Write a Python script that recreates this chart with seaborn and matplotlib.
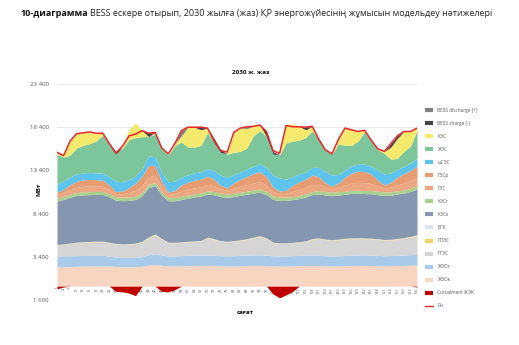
import matplotlib
matplotlib.use("Agg")
import matplotlib.pyplot as plt
import seaborn as sns
from matplotlib.lines import Line2D

sns.set_theme(style="white")
plt.rcParams["font.family"] = ["Open Sans", "DejaVu Sans"]

# hour of the week (every third hour)
hours = [1, 4, 7, 10, 13, 16, 19, 22, 25, 28, 31, 34, 37, 40, 43, 46, 49, 52, 55, 58,
         61, 64, 67, 70, 73, 76, 79, 82, 85, 88, 91, 94, 97, 100, 103, 106, 109, 112,
         115, 118, 121, 124, 127, 130, 133, 136, 139, 142, 145, 148, 151, 154, 157,
         160, 163, 166]

# generation by plant type, MW (stacked bottom to top)
zheo_k = [2250, 2260, 2280, 2300, 2320, 2330, 2340, 2350, 2330, 2280, 2250, 2250, 2260, 2300,
          2450, 2520, 2420, 2350, 2350, 2360, 2370, 2380, 2380, 2400, 2380, 2350, 2340, 2350,
          2370, 2380, 2400, 2400, 2380, 2340, 2320, 2330, 2350, 2370, 2380, 2390, 2380, 2350,
          2330, 2340, 2360, 2380, 2390, 2400, 2390, 2370, 2350, 2360, 2380, 2400, 2420, 2450]
zheo_g = [1250, 1250, 1240, 1240, 1230, 1230, 1230, 1220, 1150, 1080, 1070, 1070, 1080, 1100,
          1200, 1250, 1200, 1150, 1150, 1180, 1200, 1200, 1210, 1220, 1200, 1180, 1170, 1180,
          1200, 1210, 1220, 1230, 1200, 1170, 1160, 1160, 1180, 1200, 1210, 1220, 1200, 1170,
          1160, 1170, 1190, 1210, 1220, 1220, 1210, 1190, 1170, 1180, 1200, 1220, 1230, 1240]
gtes = [1250, 1300, 1380, 1450, 1500, 1520, 1540, 1540, 1500, 1500, 1500, 1520, 1550, 1700,
        1950, 2150, 1800, 1500, 1500, 1500, 1520, 1550, 1600, 1950, 1800, 1650, 1600, 1650,
        1700, 1800, 1950, 2100, 1900, 1500, 1450, 1450, 1450, 1480, 1550, 1800, 1900, 1850,
        1800, 1850, 1900, 1900, 1900, 1850, 1850, 1850, 1800, 1800, 1850, 1900, 2000, 2150]
gpes = [40, 40, 50, 60, 60, 60, 60, 60, 50, 40, 40, 40, 50, 60, 80, 80, 60, 40, 40, 50, 60, 60,
        60, 70, 60, 40, 40, 50, 60, 60, 70, 70, 60, 40, 40, 40, 50, 60, 60, 60, 60, 40, 40, 50,
        60, 60, 60, 60, 60, 40, 40, 50, 60, 60, 70, 80]
bgk = [40, 40, 40, 40, 40, 40, 40, 40, 40, 40, 40, 40, 40, 40, 40, 40, 40, 40, 40, 40, 40, 40,
       40, 40, 40, 40, 40, 40, 40, 40, 40, 40, 40, 40, 40, 40, 40, 40, 40, 40, 40, 40, 40, 40,
       40, 40, 40, 40, 40, 40, 40, 40, 40, 40, 40, 40]
kes_k = [5000, 5150, 5300, 5400, 5420, 5420, 5410, 5400, 5250, 5000, 5000, 5000, 5050, 5300,
         5700, 5600, 5000, 4800, 4800, 4900, 5000, 5100, 5150, 5000, 5100, 5100, 5100, 5100,
         5150, 5150, 5100, 5050, 5000, 4950, 4900, 4900, 4950, 5000, 5100, 5100, 5100, 5100,
         5100, 5100, 5100, 5150, 5150, 5150, 5150, 5100, 5100, 5100, 5150, 5150, 5200, 5300]
kes_g = [350, 350, 350, 350, 350, 350, 350, 350, 380, 400, 400, 400, 380, 350, 350, 350, 380,
         400, 400, 380, 350, 350, 350, 350, 380, 400, 400, 380, 350, 350, 350, 350, 380, 400,
         400, 380, 350, 350, 350, 350, 380, 400, 400, 380, 350, 350, 350, 350, 380, 400, 400,
         380, 350, 350, 350, 350]
ges = [400, 450, 550, 600, 650, 650, 650, 600, 500, 350, 400, 550, 700, 800, 900, 850, 600, 350,
       450, 600, 700, 700, 700, 750, 650, 500, 400, 600, 700, 750, 800, 850, 750, 500, 400, 450,
       600, 700, 750, 800, 700, 500, 400, 500, 700, 850, 900, 900, 800, 600, 450, 550, 700, 800,
       900, 950]
ges_r = [300, 350, 550, 700, 750, 750, 700, 700, 500, 250, 300, 550, 800, 1100, 1300, 1150, 600,
         250, 350, 700, 800, 900, 900, 950, 750, 400, 300, 600, 800, 950, 1100, 1150, 950, 500,
         300, 350, 700, 900, 950, 1100, 900, 500, 300, 500, 900, 1150, 1300, 1300, 1100, 700,
         350, 550, 900, 1100, 1200, 1350]
shges = [900, 1000, 900, 850, 800, 800, 800, 800, 950, 1200, 1100, 900, 850, 850, 1100, 1000,
         1000, 1200, 1100, 900, 850, 850, 850, 900, 1000, 1200, 1200, 950, 850, 850, 850, 900,
         1100, 1400, 1500, 1300, 1000, 900, 850, 900, 1100, 1300, 1300, 1000, 850, 850, 850,
         850, 900, 1100, 1300, 1100, 900, 850, 850, 900]
zhes = [3500, 2740, 2550, 3010, 3180, 3350, 3680, 4440, 3740, 3140, 3880, 4660, 4430, 3700,
        2250, 2630, 2800, 3100, 4100, 4080, 3210, 2970, 3060, 4180, 3240, 2620, 2690, 2590,
        2380, 2460, 3530, 3870, 3540, 2440, 2670, 4180, 4120, 3900, 3960, 4240, 3240, 2530,
        2410, 3560, 2850, 2360, 2640, 3780, 2920, 2390, 2380, 1580, 1270, 1730, 1950, 3210]
kes_sun = [200, 150, 1600, 1650, 1450, 1350, 900, 200, 100, 0, 100, 1200, 1700, 700, 0, 200,
           100, 0, 200, 700, 2300, 2300, 1800, 500, 0, 0, 0, 2300, 2700, 2250, 1100, 650, 0, 0,
           0, 2100, 2000, 1600, 900, 500, 0, 0, 0, 500, 2000, 1800, 1100, 150, 100, 100, 200,
           1400, 2300, 2300, 1700, 300]
bess_charge = [0, 0, 0, 0, 0, 0, 0, 0, 0, 300, 0, 0, 0, 0, 400, 0, 0, 0, 0, 0, 0, 0, 300, 0,
               500, 300, 0, 0, 0, 0, 0, 0, 600, 300, 0, 0, 0, 0, 300, 0, 0, 0, 0, 0, 0, 0, 0, 0,
               0, 0, 0, 400, 300, 0, 0, 0]
bess_discharge = [0, 0, 0, 0, 0, 0, 0, 0, 0, 0, 0, 0, 0, 0, 0, 0, 0, 0, 0, 600, 0, 0, 0, 0, 0,
                  0, 0, 0, 0, 200, 0, 0, 0, 0, 0, 0, 0, 0, 0, 0, 0, 0, 0, 0, 0, 0, 0, 0, 0, 0,
                  0, 0, 0, 0, 0, 0]
curtailment = [-300, -100, 0, 0, 0, 0, 0, 0, 0, -600, -650, -800, -1100, 0, 0, 0, -600, -650,
               -400, 0, 0, 0, 0, 0, 0, 0, 0, 0, 0, 0, 0, 0, 0, -900, -1350, -1000, -600, 0, 0,
               0, 0, 0, 0, 0, 0, 0, 0, 0, 0, 0, 0, 0, 0, 0, 0, -100]
demand = [15500, 15100, 16800, 17650, 17750, 17850, 17700, 17700, 16500, 15400, 16200, 17400,
          17600, 18000, 17700, 17800, 16000, 15300, 16500, 18000, 18400, 18400, 18400, 18300,
          16800, 15700, 15500, 17800, 18300, 18450, 18500, 18650, 17900, 15700, 15350, 18600,
          18450, 18450, 18400, 18500, 17000, 15800, 15300, 17000, 18300, 18100, 17900, 18050,
          16900, 15900, 15600, 16500, 17400, 17900, 17900, 18300]

y_ticks = [-1600, 3400, 8400, 13400, 18400, 23400]
y_tick_labels = ["1 600", "3 400", "8 400", "13 400", "18 400", "23 400"]

stack_series = [zheo_k, zheo_g, gtes, gpes, bgk, kes_k, kes_g, ges, ges_r, shges, zhes,
                kes_sun, bess_charge, bess_discharge]
stack_names = ["ЖЭОк", "ЖЭОг", "ГТЭС", "ГПЭС", "БГК", "КЭСк", "КЭСг", "ГЭС", "ГЭСр", "шГЭС",
               "ЖЭС", "КЭС", "BESS charge (-)", "BESS discharge (+)"]
stack_colors = ["#F7D5C1", "#A8CBEB", "#D5D5D5", "#F2D36A", "#DCE6F2", "#8597B0", "#A9D18E",
                "#EBA682", "#E89C72", "#5DC4EE", "#7DC59B", "#F6EA6E", "#454545", "#808080"]
curt_color = "#C00000"
line_color = "#E8262A"
grey_text = "#595959"

fig = plt.figure(figsize=(5.19, 3.45), dpi=100)
ax = fig.add_axes([57 / 519, 1 - 300 / 345, 360 / 519, 216 / 345])

ax.stackplot(hours, *stack_series, colors=stack_colors, linewidth=0.0, zorder=2)
ax.fill_between(hours, curtailment, 0, color=curt_color, linewidth=0, zorder=4)
sns.lineplot(x=hours, y=demand, ax=ax, color=line_color, linewidth=1.1, zorder=5)

ax.set_xlim(hours[0], hours[-1])
ax.set_ylim(y_ticks[0], y_ticks[-1])
ax.set_yticks(y_ticks)
ax.set_yticklabels(y_tick_labels, fontsize=4.4, color=grey_text)
ax.set_xticks([])
ax.tick_params(axis="y", length=0, pad=6)
ax.grid(axis="y", color="#E4E4E4", linewidth=0.6)
ax.set_axisbelow(True)
for s in ax.spines.values():
    s.set_visible(False)
ax.set_xlabel("")
ax.set_ylabel("")

# hour labels sit along the zero line
for h in hours:
    ax.text(h, -120, str(h), rotation=90, ha="center", va="top", fontsize=2.8,
            color=grey_text, zorder=3)

# titles and axis names
t1 = fig.text(20 / 519, 1 - 14 / 345, "10-диаграмма", fontsize=6.5, fontweight="bold",
              ha="left", va="center", color="#111111")
fig.canvas.draw()
bb = t1.get_window_extent(renderer=fig.canvas.get_renderer())
fig.text(bb.x1 / fig.bbox.width + 2 / 519, 1 - 14 / 345,
         "BESS ескере отырып, 2030 жылға (жаз) ҚР энергожүйесінің жұмысын модельдеу нәтижелері",
         fontsize=6.5, ha="left", va="center", color="#222222")
fig.text(251 / 519, 1 - 72 / 345, "2030 ж. жаз", fontsize=4.5, fontweight="bold",
         ha="center", va="center", color="#111111")
fig.text(39 / 519, 1 - 189 / 345, "МВт", rotation=90, fontsize=4.5, fontweight="bold",
         ha="center", va="center", color="#111111")
fig.text(245 / 519, 1 - 313 / 345, "сағат", fontsize=4.5, fontweight="bold",
         ha="center", va="center", color="#111111")

# legend
handles = []
labels = []
for name, col in zip(stack_names[::-1], stack_colors[::-1]):
    handles.append(Line2D([0], [0], color=col, linewidth=3.0, solid_capstyle="butt"))
    labels.append(name)
handles.append(Line2D([0], [0], color=curt_color, linewidth=3.0, solid_capstyle="butt"))
labels.append("Curtailment ЖЭК")
handles.append(Line2D([0], [0], color=line_color, linewidth=1.0))
labels.append("Pн")
leg = fig.legend(handles, labels, loc="upper left", bbox_to_anchor=(423 / 519, 1 - 106 / 345),
                 frameon=False, fontsize=3.4, handlelength=1.7, handletextpad=0.9,
                 labelspacing=1.7, borderaxespad=0)
for t in leg.get_texts():
    t.set_color(grey_text)

fig.savefig("out.png", dpi=100)
